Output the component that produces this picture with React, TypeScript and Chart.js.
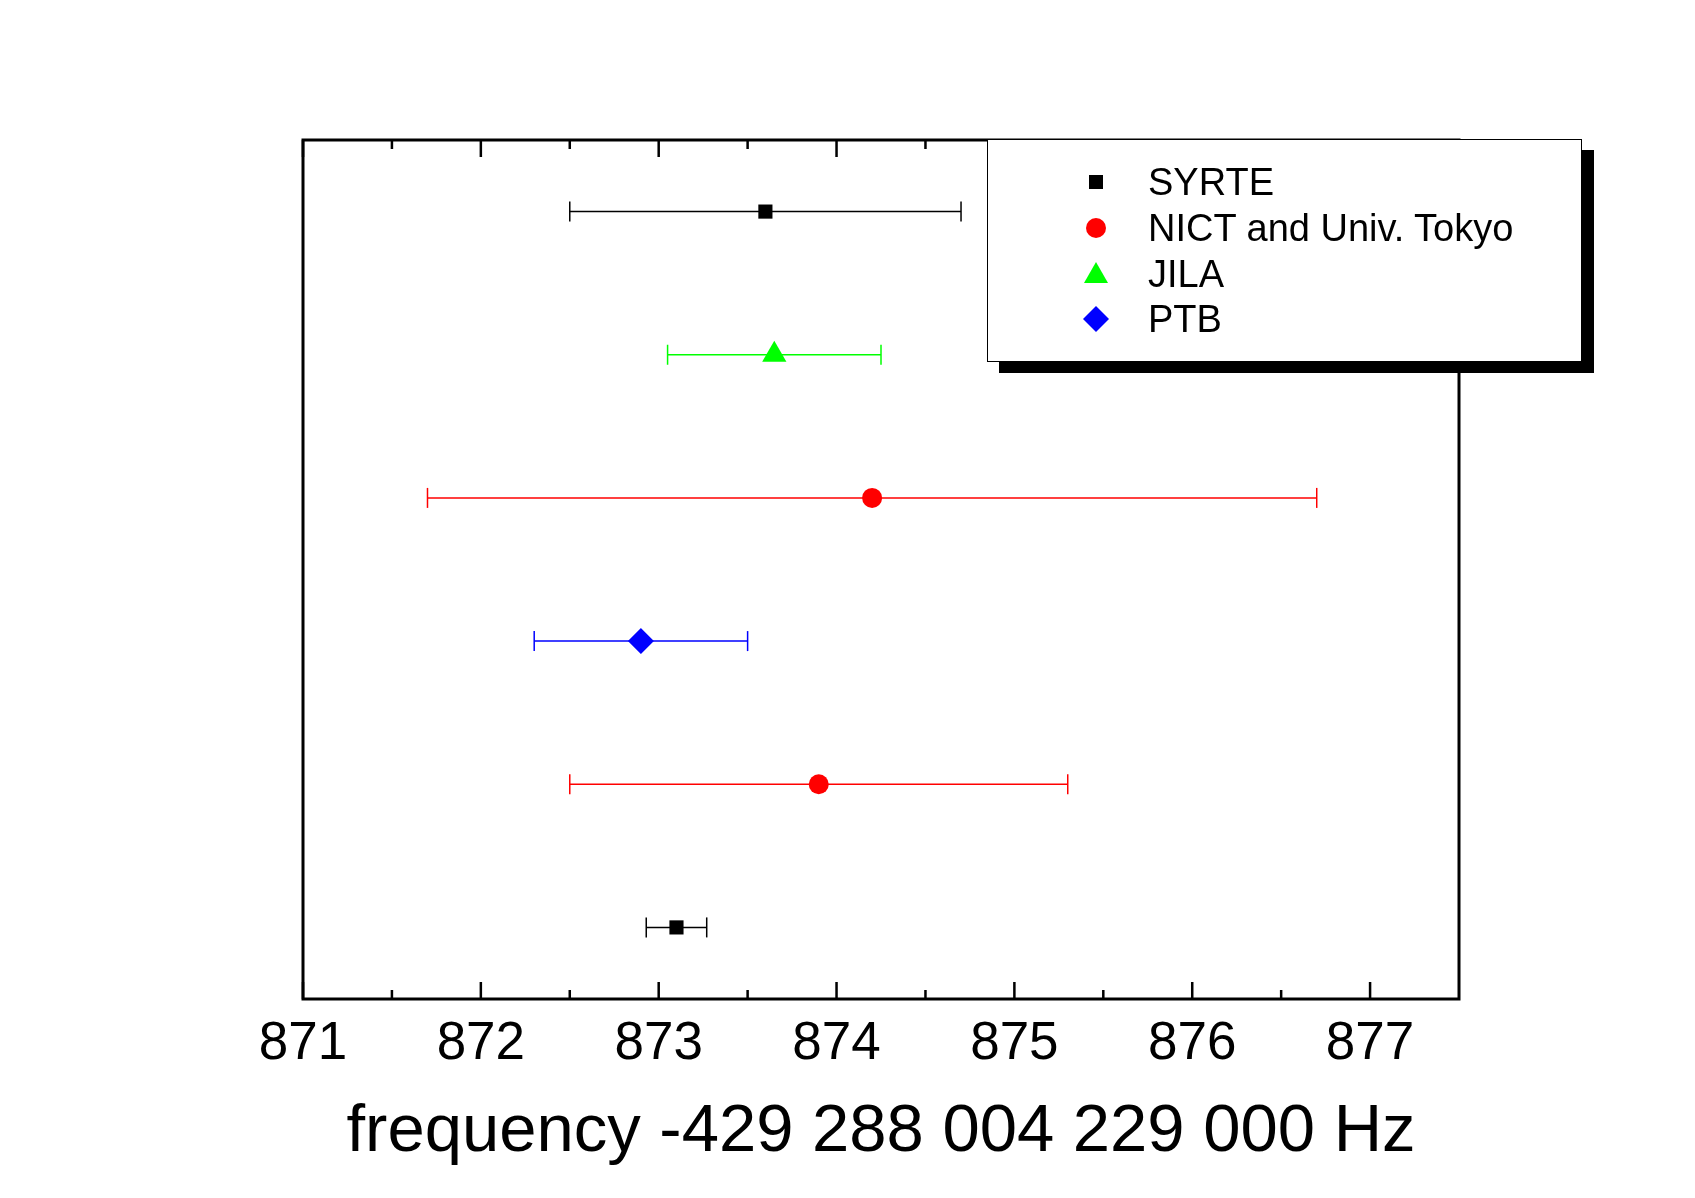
import { useEffect, useRef } from "react";
import { Chart, registerables } from "chart.js";

Chart.register(...registerables);

// measurements: row 1 is the bottom row, row 6 the top one
const SYRTE_ROWS = [6, 1];
const SYRTE_VALUES = [873.6, 873.1];
const SYRTE_ERRORS = [1.1, 0.17];

const NICT_ROWS = [4, 2];
const NICT_VALUES = [874.2, 873.9];
const NICT_ERRORS = [2.5, 1.4];

const JILA_ROWS = [5];
const JILA_VALUES = [873.65];
const JILA_ERRORS = [0.6];

const PTB_ROWS = [3];
const PTB_VALUES = [872.9];
const PTB_ERRORS = [0.6];

const X_TICKS = [871, 872, 873, 874, 875, 876, 877];
const X_MINOR_TICKS = [871.5, 872.5, 873.5, 874.5, 875.5, 876.5];
const X_TITLE = "frequency -429 288 004 229 000 Hz";

const FONT = "'Liberation Sans', Arial, Helvetica, sans-serif";
const W = 1695;
const H = 1198;

type Group = {
  label: string;
  color: string;
  style: "rect" | "circle" | "triangle" | "rectRot";
  radius: number;
  rows: number[];
  values: number[];
  errors: number[];
};

const GROUPS: Group[] = [
  { label: "SYRTE", color: "#000000", style: "rect", radius: 10, rows: SYRTE_ROWS, values: SYRTE_VALUES, errors: SYRTE_ERRORS },
  { label: "NICT and Univ. Tokyo", color: "#ff0000", style: "circle", radius: 10, rows: NICT_ROWS, values: NICT_VALUES, errors: NICT_ERRORS },
  { label: "JILA", color: "#00ff00", style: "triangle", radius: 14, rows: JILA_ROWS, values: JILA_VALUES, errors: JILA_ERRORS },
  { label: "PTB", color: "#0000ff", style: "rectRot", radius: 13, rows: PTB_ROWS, values: PTB_VALUES, errors: PTB_ERRORS },
];

// box round the plot with inward ticks on bottom and top
const framePlugin = {
  id: "frame",
  afterDatasetsDraw(chart: any) {
    const { ctx, chartArea, scales } = chart;
    const { left, right, top, bottom } = chartArea;
    ctx.save();
    ctx.strokeStyle = "#000";
    ctx.lineWidth = 3;
    ctx.strokeRect(left, top, right - left, bottom - top);
    ctx.lineWidth = 2.5;
    const tick = (v: number, len: number) => {
      const px = scales.x.getPixelForValue(v);
      ctx.beginPath();
      ctx.moveTo(px, bottom);
      ctx.lineTo(px, bottom - len);
      ctx.moveTo(px, top);
      ctx.lineTo(px, top + len);
      ctx.stroke();
    };
    X_TICKS.forEach((v) => tick(v, 17));
    X_MINOR_TICKS.forEach((v) => tick(v, 9));
    ctx.restore();
  },
};

function LegendSymbol({ style, color }: { style: Group["style"]; color: string }) {
  return (
    <svg width="30" height="30" viewBox="-15 -15 30 30" style={{ display: "block" }}>
      {style === "rect" && <rect x={-7} y={-7} width={14} height={14} fill={color} />}
      {style === "circle" && <circle cx={0} cy={0} r={10} fill={color} />}
      {style === "triangle" && <polygon points="0,-12 12,9 -12,9" fill={color} />}
      {style === "rectRot" && <polygon points="0,-13 13,0 0,13 -13,0" fill={color} />}
    </svg>
  );
}

export default function App() {
  const canvasRef = useRef<HTMLCanvasElement>(null);
  const chartRef = useRef<Chart | null>(null);

  useEffect(() => {
    document.body.style.margin = "0";
    if (!canvasRef.current || chartRef.current) return;

    const datasets: any[] = [];
    GROUPS.forEach((g) => {
      datasets.push({
        label: g.label,
        data: g.values.map((v, i) => ({ x: v, y: g.rows[i] })),
        pointStyle: g.style,
        pointRadius: g.radius,
        backgroundColor: g.color,
        borderColor: g.color,
        borderWidth: 0,
        showLine: false,
        order: 0,
        clip: false,
      });
      g.values.forEach((v, i) => {
        datasets.push({
          label: g.label + " error",
          data: [
            { x: v - g.errors[i], y: g.rows[i] },
            { x: v + g.errors[i], y: g.rows[i] },
          ],
          showLine: true,
          borderColor: g.color,
          borderWidth: 1.5,
          pointStyle: "line",
          rotation: 90,
          pointRadius: 10,
          pointBorderColor: g.color,
          pointBorderWidth: 1.5,
          order: 1,
          clip: false,
        });
      });
    });

    chartRef.current = new Chart(canvasRef.current, {
      type: "scatter",
      data: { datasets },
      options: {
        responsive: false,
        animation: false,
        devicePixelRatio: 1,
        events: [],
        layout: { padding: { left: 303, right: 236, top: 140, bottom: 25 } },
        plugins: {
          legend: { display: false },
          tooltip: { enabled: false },
        },
        scales: {
          x: {
            type: "linear",
            min: 871,
            max: 877.5,
            afterBuildTicks: (s: any) => {
              s.ticks = X_TICKS.map((v) => ({ value: v }));
            },
            grid: { display: false, drawTicks: false },
            border: { display: false },
            ticks: {
              color: "#000",
              padding: 14,
              maxRotation: 0,
              autoSkip: false,
              font: { family: FONT, size: 53 },
              callback: (v: any) => String(v),
            },
            title: {
              display: true,
              text: X_TITLE,
              color: "#000",
              font: { family: FONT, size: 67 },
              padding: { top: 2, bottom: 0 },
            },
          },
          y: { type: "linear", min: 0.5, max: 6.5, display: false },
        },
      },
      plugins: [framePlugin],
    });

    return () => {
      chartRef.current?.destroy();
      chartRef.current = null;
    };
  }, []);

  return (
    <div style={{ position: "relative", width: W, height: H, background: "#fff" }}>
      <canvas ref={canvasRef} width={W} height={H} />
      <div
        style={{
          position: "absolute",
          left: 987,
          top: 139,
          width: 595,
          height: 223,
          boxSizing: "border-box",
          border: "1px solid #000",
          background: "#fff",
          boxShadow: "12px 11px 0 #000",
          fontFamily: FONT,
          fontSize: 38,
          color: "#000",
        }}
      >
        {GROUPS.map((g, i) => (
          <div
            key={g.label}
            style={{
              position: "absolute",
              left: 0,
              top: 42 + i * 45.8 - 20,
              height: 40,
              display: "flex",
              alignItems: "center",
              whiteSpace: "nowrap",
            }}
          >
            <div style={{ position: "absolute", left: 93 }}>
              <LegendSymbol style={g.style} color={g.color} />
            </div>
            <span style={{ position: "absolute", left: 160, lineHeight: "40px" }}>{g.label}</span>
          </div>
        ))}
      </div>
    </div>
  );
}
